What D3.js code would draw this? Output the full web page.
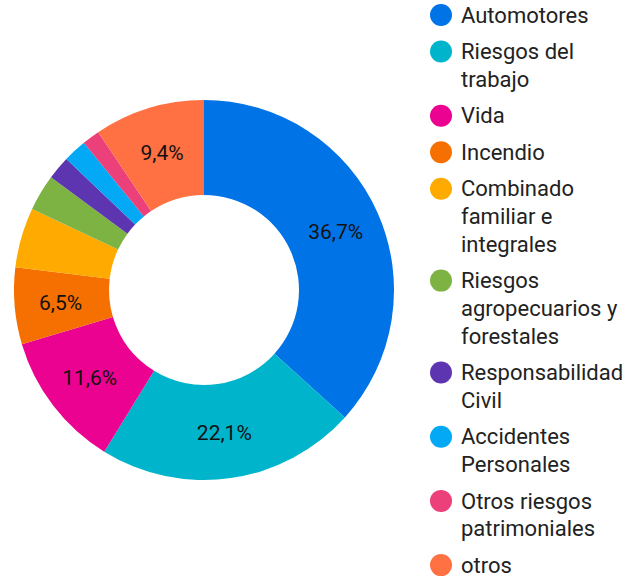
<!DOCTYPE html>
<html><head><meta charset="utf-8">
<script src="https://cdn.jsdelivr.net/npm/d3@7"></script>
<style>html,body{margin:0;padding:0;background:#fff;}svg{display:block;}</style>
</head><body>
<svg id="chart" width="625" height="579"></svg>
<script>
const categories = ["Automotores","Riesgos del trabajo","Vida","Incendio","Combinado familiar e integrales","Riesgos agropecuarios y forestales","Responsabilidad Civil","Accidentes Personales","Otros riesgos patrimoniales","otros"];
const values = [36.7, 22.1, 11.6, 6.5, 5.1, 3.1, 2.0, 2.0, 1.5, 9.4];
const colors = ["#0073E6","#00B5CB","#EC0290","#F57000","#FFAA00","#7CB342","#5E35B1","#03A9F4","#EC407A","#FF7043"];

const svg = d3.select("#chart");
const cx = 204, cy = 290, rOuter = 190, rInner = 95;
const font = "Roboto, 'Noto Sans', sans-serif";

const pie = d3.pie().sort(null).value(d => d.v);
const data = categories.map((c, i) => ({c, v: values[i], col: colors[i]}));
const arcs = pie(data);
const arc = d3.arc().innerRadius(rInner).outerRadius(rOuter);
const labelArc = d3.arc().innerRadius(144).outerRadius(144);

const g = svg.append("g").attr("transform", `translate(${cx},${cy})`);
g.selectAll("path").data(arcs).enter().append("path")
  .attr("d", arc).attr("fill", d => d.data.col);

g.selectAll("text.lbl").data(arcs.filter(d => d.data.v >= 6)).enter().append("text")
  .attr("class","lbl")
  .attr("transform", d => `translate(${labelArc.centroid(d)})`)
  .attr("text-anchor","middle").attr("dy","0.35em")
  .style("font-family", font).style("font-size","21px").style("fill","#111")
  .text(d => d.data.v.toFixed(1).replace(".", ",") + "%");

// legend
const lx = 461, maxW = 164, lineH = 27.7, gap = 8.8;
const leg = svg.append("g");
let y = 15;
data.forEach((d) => {
  const t = leg.append("text").attr("x", lx)
    .style("font-family", font).style("font-size","22px").style("fill","#222");
  const words = d.c.split(" ");
  let lines = [], cur = "";
  const probe = t.append("tspan");
  words.forEach(w => {
    const test = cur ? cur + " " + w : w;
    probe.text(test);
    if (probe.node().getComputedTextLength() > maxW && cur) { lines.push(cur); cur = w; }
    else cur = test;
  });
  lines.push(cur);
  probe.remove();
  lines.forEach((ln, i) => {
    t.append("tspan").attr("x", lx).attr("y", y + i * lineH).attr("dy","0.35em").text(ln);
  });
  leg.append("circle").attr("cx", 441).attr("cy", y).attr("r", 11).attr("fill", d.col);
  y += lines.length * lineH + gap;
});
</script>
</body></html>
